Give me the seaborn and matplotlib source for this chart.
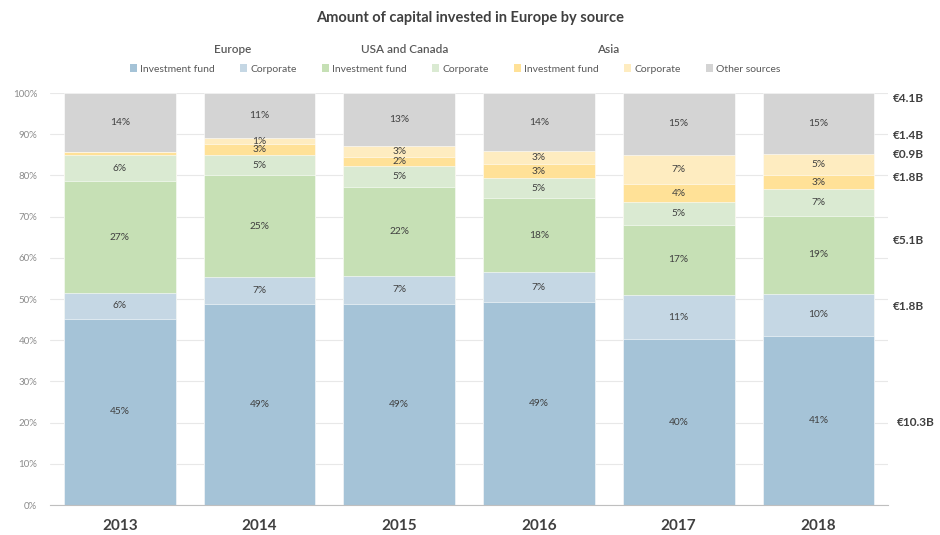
import pandas as pd
import numpy as np
import matplotlib
matplotlib.use('Agg')
import matplotlib.pyplot as plt
import seaborn as sns
from matplotlib.patches import Patch

sns.set_style('white')
plt.rcParams['font.family'] = ['Lato', 'DejaVu Sans']

# shares (%) per year
years = ['2013', '2014', '2015', '2016', '2017', '2018']
europe_fund = [45.2, 48.8, 48.9, 49.3, 40.3, 41.0]
europe_corp = [6.3, 6.6, 6.7, 7.2, 10.6, 10.3]
usa_fund = [27.1, 24.6, 21.6, 18.1, 17.2, 18.8]
usa_corp = [6.4, 4.9, 5.0, 4.7, 5.4, 6.6]
asia_fund = [0.8, 2.8, 2.3, 3.4, 4.4, 3.4]
asia_corp = [0.0, 1.3, 2.6, 3.2, 7.1, 5.0]
other = [14.2, 11.0, 12.9, 14.1, 15.0, 14.9]

series_names = ['Investment fund', 'Corporate', 'Investment fund', 'Corporate',
                'Investment fund', 'Corporate', 'Other sources']
colors = ['#a5c3d7', '#c5d7e4', '#c6e0b5', '#daead2', '#ffe197', '#feecc0', '#d4d4d4']

# 2018 totals shown on the right
amount_labels = ['€10.3B', '€1.8B', '€5.1B', '€1.8B', '€0.9B', '€1.4B', '€4.1B']
amount_y = [20.1, 48.1, 64.3, 79.4, 85.0, 89.6, 98.8]

series = [europe_fund, europe_corp, usa_fund, usa_corp, asia_fund, asia_corp, other]
vals = np.array(series)
cum = np.cumsum(vals, axis=0)

fig = plt.figure(figsize=(9.4, 5.35), dpi=100)
ax = fig.add_axes([0.053, 0.056, 0.892, 0.77])

# stacked bars: draw cumulative totals from the top down
for i in range(len(series) - 1, -1, -1):
    df = pd.DataFrame({'year': years, 'value': cum[i]})
    sns.barplot(data=df, x='year', y='value', color=colors[i], width=0.8,
                saturation=1, edgecolor='white', linewidth=0.4, ax=ax)

for i in range(len(series)):
    for j in range(len(years)):
        v = vals[i, j]
        if v < 1:
            continue
        ax.text(j, cum[i, j] - v / 2, f'{int(round(v))}%', ha='center', va='center',
                fontsize=7.3, color='#404040')

ax.set_xlim(-0.5, 5.5)
ax.set_ylim(0, 100)
ax.set_yticks(range(0, 101, 10))
ax.set_yticklabels([f'{t}%' for t in range(0, 101, 10)], fontsize=7, color='#8c8c8c')
ax.yaxis.grid(True, color='#e8e8e8', linewidth=0.8)
ax.set_axisbelow(True)
ax.tick_params(axis='y', length=0, pad=9)
ax.set_xticks(range(len(years)))
ax.set_xticklabels(years, fontsize=11, fontweight='bold', color='#404040')
ax.set_xticks(np.arange(-0.5, 6, 1), minor=True)
ax.tick_params(axis='x', which='major', length=0, pad=10)
ax.tick_params(axis='x', which='minor', length=4, color='#bfbfbf', direction='out')
ax.set_xlabel('')
ax.set_ylabel('')
for s in ['top', 'right', 'left']:
    ax.spines[s].set_visible(False)
ax.spines['bottom'].set_color('#bfbfbf')

for lab, y in zip(amount_labels, amount_y):
    x = 1.01 if lab == '€10.3B' else 1.005
    ax.text(x, y, lab, transform=ax.get_yaxis_transform(), ha='left', va='center',
            fontsize=8.5, fontweight='bold', color='#404040')

fig.text(0.5, 0.966, 'Amount of capital invested in Europe by source', ha='center',
         va='center', fontsize=10.5, fontweight='bold', color='#404040')
for name, x in [('Europe', 233), ('USA and Canada', 405), ('Asia', 608)]:
    fig.text(x / 940, 0.907, name, ha='center', va='center', fontsize=8.5,
             fontweight='semibold', color='#595959')

handles = [Patch(facecolor=c, edgecolor='none') for c in colors]
fig.legend(handles, series_names, loc='center', bbox_to_anchor=(455 / 940, 0.871),
           ncol=7, frameon=False, fontsize=7.5, handlelength=0.7, handleheight=0.7,
           handletextpad=0.3, columnspacing=2.4, labelcolor='#595959')

plt.savefig('out.png', dpi=100)
